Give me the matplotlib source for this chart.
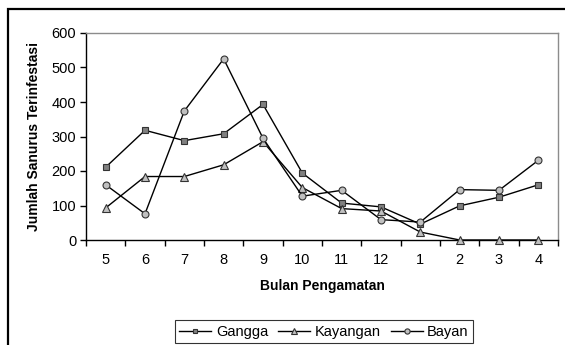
import numpy as np
import matplotlib
matplotlib.use('Agg')
import matplotlib.pyplot as plt
from matplotlib.patches import Rectangle

plt.rcParams['font.family'] = ['Liberation Sans', 'DejaVu Sans']

# observation months (May through April)
months = ['5', '6', '7', '8', '9', '10', '11', '12', '1', '2', '3', '4']

gangga = [211, 318, 288, 308, 393, 194, 107, 96, 46, 99, 124, 160]
kayangan = [93, 184, 184, 218, 285, 152, 91, 84, 23, 0, 0, 0]
bayan = [160, 76, 374, 525, 295, 127, 144, 59, 52, 146, 144, 231]

fig = plt.figure(figsize=(5.65, 3.45), dpi=100)
ax = fig.add_axes([86 / 565, 1 - 240 / 345, 472 / 565, 207 / 345])

x = np.arange(len(months))
ax.plot(x, gangga, color='black', lw=1, marker='s', ms=4.6,
        mfc='#808080', mec='#333333', mew=0.8, label='Gangga', clip_on=False, zorder=3)
ax.plot(x, kayangan, color='black', lw=1, marker='^', ms=5.5,
        mfc='#c0c0c0', mec='#333333', mew=0.8, label='Kayangan', clip_on=False, zorder=3)
ax.plot(x, bayan, color='black', lw=1, marker='o', ms=5,
        mfc='#c0c0c0', mec='#333333', mew=0.8, label='Bayan', clip_on=False, zorder=3)

ax.set_xlim(-0.5, len(months) - 0.5)
ax.set_ylim(0, 600)
ax.set_yticks(range(0, 601, 100))

# category ticks sit between months, labels centred on months
ax.set_xticks(np.arange(-0.5, len(months), 1))
ax.set_xticklabels([])
ax.set_xticks(x, minor=True)
ax.set_xticklabels(months, minor=True)
ax.tick_params(axis='x', which='major', direction='out', length=4, width=1, color='black')
ax.tick_params(axis='x', which='minor', length=0, pad=9, labelsize=10.5)
ax.tick_params(axis='y', direction='out', length=4, width=1, labelsize=10.5, pad=3)

for s in ['top', 'right']:
    ax.spines[s].set_color('#8c8c8c')
    ax.spines[s].set_linewidth(1)
for s in ['left', 'bottom']:
    ax.spines[s].set_color('black')
    ax.spines[s].set_linewidth(1)

ax.set_xlabel('Bulan Pengamatan', fontsize=10, fontweight='bold', labelpad=9)
ax.set_ylabel('Jumlah Sanurus Terinfestasi', fontsize=10, fontweight='bold', labelpad=8)

leg = fig.legend(loc='lower left', bbox_to_anchor=(175 / 565, 1 - 343 / 345, 298 / 565, 26 / 345),
                 ncol=3, mode='expand', frameon=True, fancybox=False, fontsize=10.5,
                 handlelength=2.2, handletextpad=0.3, columnspacing=0.6,
                 markerscale=0.75, borderaxespad=0, borderpad=0.3)
leg.get_frame().set_edgecolor('black')
leg.get_frame().set_linewidth(0.8)

# chart border running off the right and bottom edges
fig.patches.append(Rectangle((8 / 565, -0.1), 1.2, 1.1 - 9 / 345, transform=fig.transFigure,
                             fill=False, edgecolor='black', lw=1.6))

fig.savefig('out.png', dpi=100)
